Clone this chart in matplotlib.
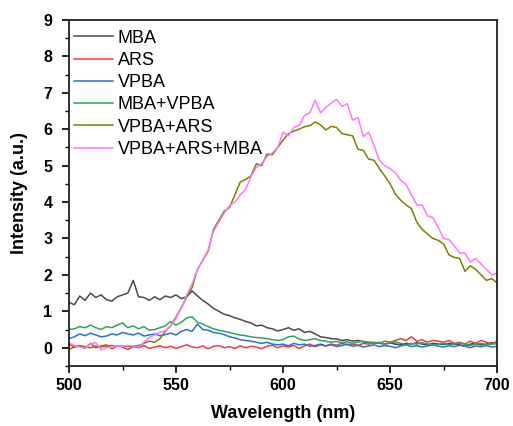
""" Fluorescence spectra of MBA / ARS / VPBA mixtures """

import numpy as np
import matplotlib
matplotlib.use("Agg")
import matplotlib.pyplot as plt
from matplotlib.ticker import MultipleLocator

# wavelength grid (nm), 2.5 nm steps
wavelength = np.linspace(500, 700, 81)

mba = [1.25, 1.18, 1.42, 1.30, 1.50, 1.38, 1.45, 1.32, 1.28, 1.40,
       1.45, 1.50, 1.85, 1.40, 1.38, 1.30, 1.40, 1.32, 1.42, 1.38,
       1.45, 1.35, 1.40, 1.56, 1.42, 1.30, 1.20, 1.08, 1.00, 0.92,
       0.88, 0.82, 0.78, 0.72, 0.68, 0.60, 0.62, 0.55, 0.52, 0.46,
       0.50, 0.55, 0.48, 0.52, 0.42, 0.45, 0.38, 0.30, 0.28, 0.25,
       0.24, 0.20, 0.22, 0.18, 0.20, 0.16, 0.15, 0.14, 0.12, 0.10,
       0.13, 0.10, 0.08, 0.12, 0.10, 0.14, 0.10, 0.08, 0.12, 0.10,
       0.09, 0.12, 0.10, 0.08, 0.04, 0.10, 0.12, 0.08, 0.10, 0.14,
       0.10]

ars = [0.10, 0.02, 0.05, -0.02, 0.12, 0.00, 0.05, 0.08, -0.03, 0.05,
       0.02, -0.05, 0.03, 0.00, 0.06, -0.02, 0.02,
       0.05, 0.00, 0.04, -0.02, 0.03, 0.08, 0.02, 0.00, 0.05, -0.03,
       0.04, 0.06, 0.00, 0.03, -0.02, 0.05, 0.00, 0.04, 0.02, -0.03,
       0.04, 0.07, 0.00, 0.05,
       0.02, 0.06, -0.02, 0.05, 0.10, 0.03, 0.08, 0.05, 0.10, 0.07,
       0.12, 0.08, 0.10, 0.06, 0.12, 0.10,
       0.15, 0.12, 0.18, 0.15, 0.20, 0.25, 0.20, 0.30, 0.18, 0.22,
       0.15, 0.20, 0.18, 0.15, 0.20, 0.12, 0.15, 0.10, 0.18, 0.12,
       0.20, 0.15, 0.10, 0.18]

vpba = [0.25, 0.30, 0.38, 0.33, 0.40, 0.35, 0.30, 0.32, 0.38, 0.35,
        0.42, 0.38, 0.35, 0.40, 0.32, 0.35, 0.38, 0.33, 0.36, 0.40,
        0.35, 0.45, 0.50, 0.45, 0.65, 0.50, 0.48, 0.42, 0.40, 0.36,
        0.30, 0.27, 0.22, 0.20, 0.18, 0.15, 0.12, 0.15, 0.10, 0.08,
        0.10, 0.05, 0.12, 0.08, 0.10, 0.04, 0.06, 0.10, 0.05, 0.08,
        0.03, 0.06, 0.10, 0.04, 0.07, 0.02, 0.05, 0.08, 0.03, 0.06,
        0.04, 0.00, 0.05, 0.08, 0.03, 0.06, 0.02, 0.05, 0.08, 0.04,
        0.02, 0.06, 0.03, 0.07, 0.04, 0.00, 0.05, 0.03, 0.06, 0.02,
        0.04]

mba_vpba = [0.50, 0.52, 0.58, 0.55, 0.62, 0.55, 0.50, 0.58, 0.55, 0.62,
            0.68, 0.55, 0.60, 0.52, 0.58, 0.48, 0.50, 0.55, 0.60, 0.72,
            0.62, 0.70, 0.82, 0.85, 0.70, 0.65, 0.58, 0.52, 0.48, 0.45,
            0.42, 0.38, 0.35, 0.33, 0.30, 0.28, 0.27, 0.25, 0.22, 0.20,
            0.22, 0.30, 0.32, 0.24, 0.20, 0.22, 0.25, 0.20, 0.18, 0.15,
            0.17, 0.14, 0.16, 0.12, 0.15, 0.18, 0.14, 0.12, 0.15, 0.10,
            0.13, 0.16, 0.12, 0.08, 0.12, 0.10, 0.14, 0.10, 0.06, 0.10,
            0.12, 0.08, 0.10, 0.13, 0.09, 0.06, 0.10, 0.12, 0.08, 0.10,
            0.12]

vpba_ars = [-0.05, 0.02, 0.06, 0.03, 0.00, 0.04, 0.02, 0.05, 0.06, 0.04,
            0.05, 0.03, 0.05, 0.06, 0.12, 0.18, 0.15, 0.25, 0.45, 0.60,
            0.84, 1.10, 1.40, 1.65, 2.15, 2.40, 2.65, 3.25, 3.50, 3.75,
            3.85, 4.20, 4.55, 4.62, 4.72, 5.05, 5.00, 5.32, 5.30, 5.50,
            5.70, 5.88, 5.95, 6.00, 6.07, 6.10, 6.20, 6.12, 5.98, 6.08,
            6.05, 5.88, 5.85, 5.82, 5.45, 5.42, 5.18, 5.15, 4.92, 4.72,
            4.50, 4.22, 4.05, 3.92, 3.82, 3.45, 3.25, 3.12, 3.00, 2.95,
            2.85, 2.55, 2.48, 2.45, 2.10, 2.25, 2.15, 2.00, 1.85, 1.90,
            1.78]

vpba_ars_mba = [0.13, 0.06, 0.02, -0.02, 0.10, 0.14, -0.06, 0.00, 0.03, 0.05,
                0.04, 0.06, 0.05, 0.02, 0.15, 0.28, 0.35, 0.43, 0.47, 0.60,
                0.80, 1.10, 1.45, 1.75, 2.15, 2.40, 2.68, 3.20, 3.45, 3.70,
                3.90, 4.00, 4.20, 4.35, 4.70, 4.95, 5.05, 5.25, 5.35, 5.50,
                5.92, 5.82, 6.05, 6.10, 6.38, 6.45, 6.80, 6.45, 6.60, 6.72,
                6.82, 6.63, 6.70, 6.25, 6.32, 5.80, 5.92, 5.55, 5.15, 5.00,
                4.92, 4.80, 4.60, 4.48, 4.20, 3.92, 3.92, 3.62, 3.58, 3.30,
                3.00, 2.97, 2.80, 2.60, 2.60, 2.35, 2.45, 2.30, 2.15, 2.00,
                2.04]

labels = ["MBA", "ARS", "VPBA", "MBA+VPBA", "VPBA+ARS", "VPBA+ARS+MBA"]
colors = ["#4a4a4a", "#f03c3c", "#2a6fdc", "#2ea35f", "#7f7f00", "#ff77ff"]


def main():
    plt.rcParams["font.family"] = ["Liberation Sans", "DejaVu Sans"]
    fig = plt.figure(figsize=(5.13, 4.26), dpi=100)
    ax = fig.add_axes([0.1345, 0.141, 0.8345, 0.812])

    series = [mba, ars, vpba, mba_vpba, vpba_ars, vpba_ars_mba]
    for values, label, color in zip(series, labels, colors):
        ax.plot(wavelength, values, color=color, lw=1.1, label=label)

    ax.set_xlim(500, 700)
    ax.set_ylim(-0.5, 9)
    ax.xaxis.set_major_locator(MultipleLocator(50))
    ax.xaxis.set_minor_locator(MultipleLocator(25))
    ax.yaxis.set_major_locator(MultipleLocator(1))
    ax.yaxis.set_minor_locator(MultipleLocator(0.5))
    ax.tick_params(which="major", direction="out", length=5, width=1.2,
                   labelsize=11.5)
    ax.tick_params(axis="y", which="major", pad=7)
    ax.tick_params(which="minor", direction="out", length=3, width=1.0)
    for lab in ax.get_xticklabels() + ax.get_yticklabels():
        lab.set_fontweight("bold")
    for spine in ax.spines.values():
        spine.set_linewidth(1.3)
        spine.set_color("#222222")

    ax.set_xlabel("Wavelength (nm)", fontsize=13, fontweight="bold",
                  labelpad=9)
    ax.set_ylabel("Intensity (a.u.)", fontsize=13, fontweight="bold",
                  labelpad=11)

    ax.legend(loc="upper left", frameon=False, fontsize=13,
              handlelength=2.2, handletextpad=0.25, labelspacing=0.29,
              borderpad=0.0, borderaxespad=0.25,
              bbox_to_anchor=(0.0, 0.985))

    fig.savefig("out.png", dpi=100)


if __name__ == "__main__":
    main()
